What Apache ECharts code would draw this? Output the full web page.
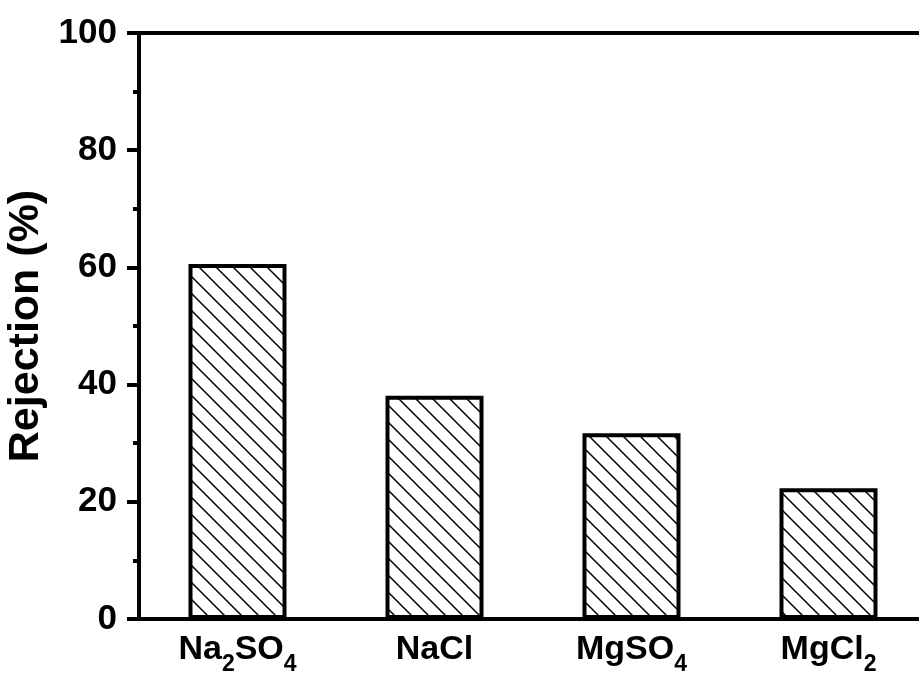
<!DOCTYPE html>
<html>
<head>
<meta charset="utf-8">
<script src="https://cdn.jsdelivr.net/npm/echarts@6/dist/echarts.min.js"></script>
<style>
  html, body { margin: 0; padding: 0; background: #fff; }
  #chart { width: 919px; height: 675px; }
</style>
</head>
<body>
<div id="chart"></div>
<script>
// Salt rejection of the membrane (%)
const salts = ['Na2SO4', 'NaCl', 'MgSO4', 'MgCl2'];
const saltLabels = ['{m|Na}{sub|2}{m|SO}{sub|4}', '{m|NaCl}', '{m|MgSO}{sub|4}', '{m|MgCl}{sub|2}'];
const rejection = [60.6, 38.1, 31.7, 22.3];
const yTicks = [0, 20, 40, 60, 80, 100];

const FONT = '"Liberation Sans", Arial, Helvetica, sans-serif';

// Diagonal "\\" hatch tile for the bar fill
function hatchTile(size, lw) {
  const c = document.createElement('canvas');
  c.width = size; c.height = size;
  const g = c.getContext('2d');
  g.fillStyle = '#fff';
  g.fillRect(0, 0, size, size);
  g.strokeStyle = '#000';
  g.lineWidth = lw;
  g.beginPath();
  g.moveTo(-2, -2); g.lineTo(size + 2, size + 2);
  g.moveTo(-2, size - 2); g.lineTo(2, size + 2);
  g.moveTo(size - 2, -2); g.lineTo(size + 2, 2);
  g.stroke();
  return c;
}

const chart = echarts.init(document.getElementById('chart'), null, { renderer: 'canvas' });

chart.setOption({
  animation: false,
  backgroundColor: '#fff',
  grid: {
    left: 139, top: 33, width: 788, height: 586,
    outerBoundsMode: 'none',
    containLabel: false,
    show: true, borderColor: '#000', borderWidth: 4, backgroundColor: 'transparent'
  },
  xAxis: {
    type: 'category',
    data: salts,
    axisLine: { lineStyle: { color: '#000', width: 4 } },
    axisTick: { show: false },
    axisLabel: {
      interval: 0,
      hideOverlap: false,
      margin: 14,
      verticalAlign: 'top',
      color: '#000',
      formatter: (v, i) => saltLabels[i],
      rich: {
        m: { fontFamily: FONT, fontWeight: 'bold', fontSize: 34, lineHeight: 34, color: '#000', verticalAlign: 'top' },
        sub: { fontFamily: FONT, fontWeight: 'bold', fontSize: 23, lineHeight: 23, color: '#000', verticalAlign: 'top', padding: [20, 0, 0, 0] }
      }
    }
  },
  yAxis: {
    type: 'value',
    min: yTicks[0],
    max: yTicks[yTicks.length - 1],
    interval: 20,
    name: 'Rejection (%)',
    nameLocation: 'middle',
    nameGap: 85,
    nameTextStyle: { fontFamily: FONT, fontWeight: 'bold', fontSize: 43, color: '#000' },
    axisLine: { show: true, lineStyle: { color: '#000', width: 4 } },
    axisTick: { show: true, inside: false, length: 12, lineStyle: { color: '#000', width: 4 } },
    minorTick: { show: true, splitNumber: 2, length: 6, lineStyle: { color: '#000', width: 4 } },
    splitLine: { show: false },
    axisLabel: {
      margin: 22,
      color: '#000',
      fontFamily: FONT,
      fontWeight: 'bold',
      fontSize: 35
    }
  },
  series: [{
    type: 'bar',
    data: rejection,
    barWidth: 98,
    itemStyle: {
      color: { image: hatchTile(17, 1.5), repeat: 'repeat' },
      borderColor: '#000',
      borderWidth: 4
    }
  }]
});
</script>
</body>
</html>
